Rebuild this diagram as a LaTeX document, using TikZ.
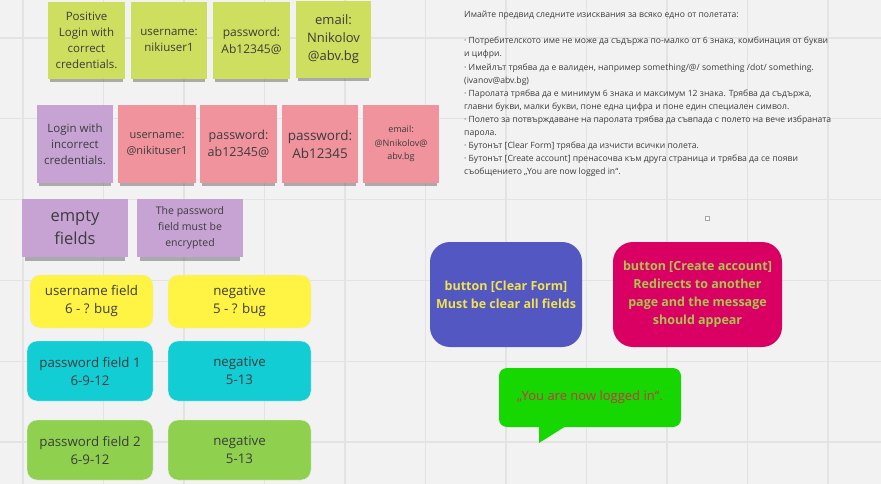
\documentclass[tikz,border=0pt]{standalone}
\usepackage{fontspec}
\setmainfont{Open Sans}
\usetikzlibrary{calc}
\usetikzlibrary{shadows}

\definecolor{board}{HTML}{F2F2F2}
\definecolor{gridline}{HTML}{E3E3E3}
\definecolor{lime}{HTML}{CEDE5F}
\definecolor{lilac}{HTML}{C7A3D4}
\definecolor{rose}{HTML}{F0939C}
\definecolor{lemon}{HTML}{FFF343}
\definecolor{aqua}{HTML}{12CDD4}
\definecolor{leaf}{HTML}{8FD14F}
\definecolor{indigo}{HTML}{5257C2}
\definecolor{berry}{HTML}{DA0063}
\definecolor{bubble}{HTML}{16D700}
\definecolor{ink}{HTML}{3C3C3C}
\definecolor{btnyellow}{HTML}{F2E24E}
\definecolor{btnolive}{HTML}{A9C64F}
\definecolor{msgred}{HTML}{CC3050}

\begin{document}
\begin{tikzpicture} [x=1pt, y=-1pt,
  sticky/.style={draw=none, text=ink, align=center, inner sep=1,
    drop shadow={shadow xshift=0pt, shadow yshift=-6pt, shadow scale=.94, opacity=.4, fill=black!75}},
  card/.style={draw=black!8, rounded corners=10, text=ink, align=center, inner sep=1, font=\fontsize{13.3}{18}\selectfont},
  button/.style={draw=none, rounded corners=20, align=center, inner sep=1, font=\bfseries\fontsize{12.5}{18}\selectfont}]
\useasboundingbox[fill=board] (0,0) rectangle (881,484);
\foreach \x in {23, 103.5, ..., 830} {
 \draw[gridline, line width=1.2] (\x,0) -- (\x,484);
}
\foreach \y in {38, 118.8, ..., 480} {
 \draw[gridline, line width=1.2] (0,\y) -- (881,\y);
}
% positive login
\node[sticky, fill=lime, minimum width=77, minimum height=77, font=\fontsize{11.5}{16}\selectfont] (pos) at (86.5,40.5) {Positive\\Login with\\correct\\credentials.};
\node[sticky, fill=lime, minimum width=76, minimum height=77, font=\fontsize{11.5}{16.5}\selectfont] (posuser) at (169,40.5) {username:\\nikiuser1};
\node[sticky, fill=lime, minimum width=77, minimum height=77, font=\fontsize{12}{17}\selectfont] (pospass) at (251.5,40.5) {password:\\Ab12345@};
\node[sticky, fill=lime, minimum width=75, minimum height=77, font=\fontsize{13}{18}\selectfont] (posmail) at (333.5,39.5) {email:\\Nnikolov\\@abv.bg};
% negative login
\node[sticky, fill=lilac, minimum width=76, minimum height=78, font=\fontsize{11.5}{16}\selectfont] (neg) at (75,144) {Login with\\incorrect\\credentials.};
\node[sticky, fill=rose, minimum width=78, minimum height=78, font=\fontsize{11}{16}\selectfont] (neguser) at (157,144) {username:\\@nikituser1};
\node[sticky, fill=rose, minimum width=77, minimum height=78, font=\fontsize{12.5}{17}\selectfont] (negpassa) at (238.5,144) {password:\\ab12345@};
\node[sticky, fill=rose, minimum width=76, minimum height=78, font=\fontsize{13.5}{18}\selectfont] (negpassb) at (320,144) {password:\\Ab12345};
\node[sticky, fill=rose, minimum width=76, minimum height=78, font=\fontsize{9}{13.5}\selectfont] (negmail) at (401,144) {email:\\@Nnikolov@\\abv.bg};
% other checks
\node[sticky, fill=lilac, minimum width=106, minimum height=58, font=\fontsize{16.5}{23}\selectfont] (empty) at (75,228) {empty\\fields};
\node[sticky, fill=lilac, minimum width=106, minimum height=58, font=\fontsize{10.5}{16}\selectfont] (encrypt) at (190,228) {The password\\field must be\\encrypted};
% field lengths
\node[card, fill=lemon, minimum width=123, minimum height=53] (userfield) at (91.5,301.5) {username field\\6 - ? bug};
\node[card, fill=lemon, minimum width=143, minimum height=53] (userneg) at (239.5,301.5) {negative\\5 - ? bug};
\node[card, fill=aqua, minimum width=126, minimum height=60] (passone) at (90,371) {password field 1\\6-9-12};
\node[card, fill=aqua, minimum width=143, minimum height=60] (passoneneg) at (239.5,371) {negative\\5-13};
\node[card, fill=leaf, minimum width=126, minimum height=60] (passtwo) at (90,450) {password field 2\\6-9-12};
\node[card, fill=leaf, minimum width=143, minimum height=60] (passtwoneg) at (239.5,450) {negative\\5-13};
% requirements
\node[anchor=north west, inner sep=0, align=left, text=ink, font=\fontsize{8.6}{13.1}\selectfont] (rules) at (464,11) {Имайте предвид следните изисквания за всяко едно от полетата:\\[13.1pt]
· Потребителското име не може да съдържа по-малко от 6 знака, комбинация от букви\\
и цифри.\\
· Имейлът трябва да е валиден, например something/@/ something /dot/ something.\\
(ivanov@abv.bg)\\
· Паролата трябва да е минимум 6 знака и максимум 12 знака. Трябва да съдържа,\\
главни букви, малки букви, поне една цифра и поне един специален символ.\\
· Полето за потвърждаване на паролата трябва да съвпада с полето на вече избраната\\
парола.\\
· Бутонът [Clear Form] трябва да изчисти всички полета.\\
· Бутонът [Create account] пренасочва към друга страница и трябва да се появи\\
съобщението „You are now logged in“.};
\draw[black!35, fill=white] (705,216) rectangle (709,220);
% buttons
\node[button, fill=indigo, text=btnyellow, minimum width=152, minimum height=105] (clear) at (506,294.5) {button [Clear Form]\\Must be clear all fields};
\node[button, fill=berry, text=btnolive, minimum width=169, minimum height=105] (create) at (697.5,294.5) {button [Create account]\\Redirects to another\\page and the message\\should appear};
% message
\coordinate (tailA) at (539,426);
\coordinate (tailB) at (539,443);
\coordinate (tailC) at (566,426);
\fill[bubble] (tailA) -- (tailB) -- (tailC) -- cycle;
\node[draw=none, fill=bubble, rounded corners=8, text=msgred, minimum width=182, minimum height=59, font=\fontsize{13}{18}\selectfont] (msg) at (590,397.5) {„You are now logged in“.};
\end{tikzpicture}
\end{document}
